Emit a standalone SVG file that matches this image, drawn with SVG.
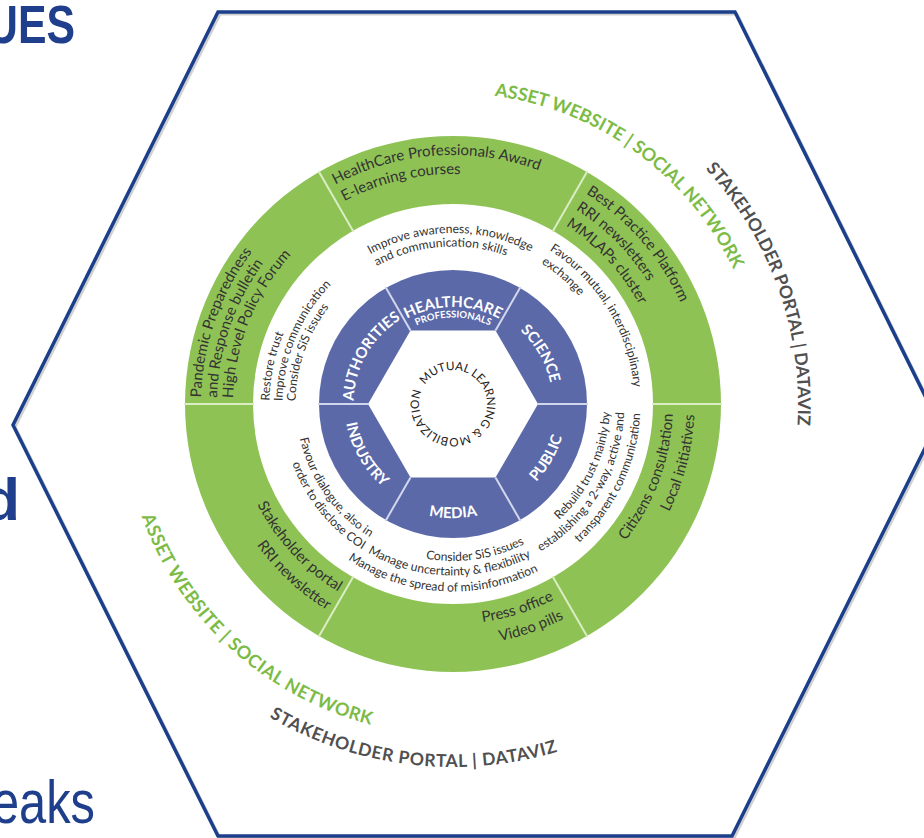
<svg xmlns="http://www.w3.org/2000/svg" width="924" height="838" viewBox="0 0 924 838">
<style>
  .g15 { font-family: Lato, "Open Sans", sans-serif; font-size: 15px; fill: #333333; }
  .w12 { font-family: Lato, "Open Sans", sans-serif; font-size: 12.2px; fill: #333333; }
  .lbl { font-family: Lato, "Open Sans", sans-serif; font-size: 15px; font-weight: 700; fill: #ffffff; }
  .sm { font-size: 9.5px; }
  .ctr { font-family: Lato, "Open Sans", sans-serif; font-size: 11.7px; fill: #222222; }
  .asset { font-family: Lato, "Open Sans", sans-serif; font-weight: 700; font-size: 18px; fill: #7cbb45; }
  .stake { font-family: Lato, "Open Sans", sans-serif; font-weight: 700; font-size: 17.5px; fill: #505050; }
  .gdiv { stroke: #dbedc4; stroke-width: 2; }
  .bdiv { stroke: #d3d7ee; stroke-width: 2; }
  .title { font-family: "Liberation Sans", Arial, sans-serif; fill: #1f3e8c; }
</style>
<defs>
  <path id="u86" d="M371.72,433.59 A86.5,86.5 0 1 1 534.28,433.59"/>
  <path id="u97" d="M361.85,437.18 A97,97 0 1 1 544.15,437.18"/>
  <path id="u99" d="M359.50,438.03 A99.5,99.5 0 1 1 546.50,438.03"/>
  <path id="u157" d="M305.00,457.87 A157.5,157.5 0 1 1 601.00,457.87"/>
  <path id="u166" d="M297.01,460.78 A166,166 0 1 1 608.99,460.78"/>
  <path id="u170" d="M292.78,462.31 A170.5,170.5 0 1 1 613.22,462.31"/>
  <path id="u171" d="M292.31,462.49 A171,171 0 1 1 613.69,462.49"/>
  <path id="u181" d="M282.45,466.08 A181.5,181.5 0 1 1 623.55,466.08"/>
  <path id="u183" d="M280.57,466.76 A183.5,183.5 0 1 1 625.43,466.76"/>
  <path id="u211" d="M254.73,476.17 A211,211 0 1 1 651.27,476.17"/>
  <path id="u220" d="M246.27,479.24 A220,220 0 1 1 659.73,479.24"/>
  <path id="u230" d="M236.87,482.67 A230,230 0 1 1 669.13,482.67"/>
  <path id="u236" d="M231.23,484.72 A236,236 0 1 1 674.77,484.72"/>
  <path id="u249" d="M219.02,489.16 A249,249 0 1 1 686.98,489.16"/>
  <path id="u252" d="M216.20,490.19 A252,252 0 1 1 689.80,490.19"/>
  <path id="u311" d="M160.76,510.37 A311,311 0 1 1 745.24,510.37"/>
  <path id="u345" d="M128.81,522.00 A345,345 0 1 1 777.19,522.00"/>
  <path id="l108" d="M351.04,366.89 A108.5,108.5 0 1 0 554.96,366.89"/>
  <path id="l114" d="M345.88,365.01 A114,114 0 1 0 560.12,365.01"/>
  <path id="l157" d="M305.47,350.30 A157,157 0 1 0 600.53,350.30"/>
  <path id="l171" d="M291.84,345.34 A171.5,171.5 0 1 0 614.16,345.34"/>
  <path id="l187" d="M276.81,339.87 A187.5,187.5 0 1 0 629.19,339.87"/>
  <path id="l220" d="M246.27,328.76 A220,220 0 1 0 659.73,328.76"/>
  <path id="l241" d="M226.07,321.40 A241.5,241.5 0 1 0 679.93,321.40"/>
  <path id="l331" d="M141.96,290.79 A331,331 0 1 0 764.04,290.79"/>
  <path id="l363" d="M111.89,279.85 A363,363 0 1 0 794.11,279.85"/>
  <path id="ctrc" d="M424.81,384.99 A34,34 0 0 1 481.19,423.01 A34,34 0 0 1 424.81,384.99"/>
</defs>

<rect width="924" height="838" fill="#ffffff"/>

<g id="title-fragments">
  <text class="title" x="-13" y="43" font-size="54" font-weight="700" textLength="88" lengthAdjust="spacingAndGlyphs">UES</text>
  <text class="title" x="20" y="520" font-size="60" font-weight="700" text-anchor="end">d</text>
  <text class="title" x="-8" y="823" font-size="62" textLength="103" lengthAdjust="spacingAndGlyphs" fill="#2b4b9a">eaks</text>
</g>

<g id="hexagon-frame">
  <polygon points="220,14 737,14 940,424 734,838 220,838 15,427" fill="none" stroke="#9a9a9a" stroke-opacity="0.45" stroke-width="3"/>
  <polygon points="218,12 735,12 938,422 732,836 218,836 13,425" fill="none" stroke="#1b3f8b" stroke-width="3.5" stroke-linejoin="miter"/>
</g>

<g id="wheel">
  <circle cx="453" cy="404" r="268" fill="#8fc255"/>
  <circle cx="453" cy="404" r="200" fill="#ffffff"/>
  <circle cx="453" cy="404" r="134" fill="#5b69a9"/>
  <polygon points="538,404 495.5,330.39 410.5,330.39 368,404 410.5,477.61 495.5,477.61" fill="#ffffff"/>
</g>

<g id="dividers">
  <line class="gdiv" x1="652" y1="404" x2="722" y2="404"/>
  <line class="gdiv" x1="552.5" y1="231.7" x2="587.5" y2="171.1"/>
  <line class="gdiv" x1="353.5" y1="231.7" x2="318.5" y2="171.1"/>
  <line class="gdiv" x1="254" y1="404" x2="184" y2="404"/>
  <line class="gdiv" x1="353.5" y1="576.3" x2="318.5" y2="636.9"/>
  <line class="gdiv" x1="552.5" y1="576.3" x2="587.5" y2="636.9"/>
  <line class="bdiv" x1="538" y1="404" x2="588" y2="404"/>
  <line class="bdiv" x1="495.5" y1="330.39" x2="520.5" y2="287.1"/>
  <line class="bdiv" x1="410.5" y1="330.39" x2="385.5" y2="287.1"/>
  <line class="bdiv" x1="368" y1="404" x2="318" y2="404"/>
  <line class="bdiv" x1="410.5" y1="477.61" x2="385.5" y2="520.9"/>
  <line class="bdiv" x1="495.5" y1="477.61" x2="520.5" y2="520.9"/>
</g>

<g id="center">
  <text class="ctr"><textPath href="#ctrc" startOffset="0">MUTUAL LEARNING &amp; MOBILIZATION</textPath></text>
</g>

<g id="healthcare-professionals">
  <text class="lbl" text-anchor="middle" font-size="13.5"><textPath href="#u97" startOffset="186.2">HEALTHCARE</textPath></text>
  <text class="lbl sm" text-anchor="middle"><textPath href="#u86" startOffset="166.1">PROFESSIONALS</textPath></text>
  <text class="w12"><textPath href="#u171" startOffset="241.7">Improve awareness, knowledge</textPath></text>
  <text class="w12"><textPath href="#u157" startOffset="222.7">and communication skills</textPath></text>
  <text class="g15"><textPath href="#u249" startOffset="355.1">HealthCare Professionals Award</textPath></text>
  <text class="g15"><textPath href="#u230" startOffset="328.0">E-learning courses</textPath></text>
</g>

<g id="science">
  <text class="lbl" text-anchor="middle" font-size="14.5"><textPath href="#u99" startOffset="295.2">SCIENCE</textPath></text>
  <text class="w12"><textPath href="#u181" startOffset="449.8">Favour mutual, interdisciplinary</textPath></text>
  <text class="w12"><textPath href="#u166" startOffset="411.4">exchange</textPath></text>
  <text class="g15"><textPath href="#u249" startOffset="618.0">Best Practice Platform</textPath></text>
  <text class="g15"><textPath href="#u230" startOffset="570.8">RRI newsletters</textPath></text>
  <text class="g15"><textPath href="#u211" startOffset="523.7">MMLAPs cluster</textPath></text>
</g>

<g id="public">
  <text class="lbl" text-anchor="middle"><textPath href="#l114" startOffset="338.2">PUBLIC</textPath></text>
  <text class="w12" text-anchor="end"><textPath href="#l157" startOffset="539.8">Rebuild trust mainly by</textPath></text>
  <text class="w12" text-anchor="end"><textPath href="#l171" startOffset="589.7">establishing a 2-way, active and</textPath></text>
  <text class="w12" text-anchor="end"><textPath href="#l187" startOffset="644.7">transparent communication</textPath></text>
  <text class="g15" text-anchor="end"><textPath href="#l220" startOffset="757.6">Citizens consultation</textPath></text>
  <text class="g15" text-anchor="end"><textPath href="#l241" startOffset="831.6">Local initiatives</textPath></text>
</g>

<g id="media">
  <text class="lbl" text-anchor="middle"><textPath href="#l114" startOffset="218.9">MEDIA</textPath></text>
  <text class="w12" text-anchor="end"><textPath href="#l157" startOffset="375.4">Consider SiS issues</textPath></text>
  <text class="w12" text-anchor="end"><textPath href="#l171" startOffset="410.1">Manage uncertainty &amp; flexibility</textPath></text>
  <text class="w12" text-anchor="end"><textPath href="#l187" startOffset="448.3">Manage the spread of misinformation</textPath></text>
  <text class="g15" text-anchor="end"><textPath href="#l220" startOffset="527.2">Press office</textPath></text>
  <text class="g15" text-anchor="end"><textPath href="#l241" startOffset="578.7">Video pills</textPath></text>
</g>

<g id="industry">
  <text class="lbl" text-anchor="middle" font-size="14.5"><textPath href="#l108" startOffset="94.7">INDUSTRY</textPath></text>
  <text class="w12" text-anchor="end"><textPath href="#l157" startOffset="213.7">Favour dialogue, also in</textPath></text>
  <text class="w12" text-anchor="end"><textPath href="#l171" startOffset="233.5">order to disclose COI</textPath></text>
  <text class="g15" text-anchor="end"><textPath href="#l220" startOffset="301.4">Stakeholder portal</textPath></text>
  <text class="g15" text-anchor="end"><textPath href="#l241" startOffset="330.9">RRI newsletter</textPath></text>
</g>

<g id="authorities">
  <text class="lbl" text-anchor="middle" font-size="14"><textPath href="#u99" startOffset="86.8">AUTHORITIES</textPath></text>
  <text class="w12"><textPath href="#u183" startOffset="67.3">Restore trust</textPath></text>
  <text class="w12"><textPath href="#u170" startOffset="62.5">Improve communication</textPath></text>
  <text class="w12"><textPath href="#u157" startOffset="57.7">Consider SiS issues</textPath></text>
  <text class="g15"><textPath href="#u252" startOffset="94.6">Pandemic Preparedness</textPath></text>
  <text class="g15"><textPath href="#u236" startOffset="88.6">and Response bulletin</textPath></text>
  <text class="g15"><textPath href="#u220" startOffset="82.6">High Level Policy Forum</textPath></text>
</g>

<g id="outer-labels">
  <text class="asset" text-anchor="middle"><textPath href="#u311" startOffset="792.5">ASSET WEBSITE | SOCIAL NETWORK</textPath></text>
  <text class="stake" text-anchor="middle"><textPath href="#u345" startOffset="1085.4">STAKEHOLDER PORTAL | DATAVIZ</textPath></text>
  <text class="asset" text-anchor="middle" font-size="18.5" letter-spacing="0.5"><textPath href="#l331" startOffset="391.4">ASSET WEBSITE | SOCIAL NETWORK</textPath></text>
  <text class="stake" text-anchor="middle" font-size="19.5" letter-spacing="0.7"><textPath href="#l363" startOffset="654">STAKEHOLDER PORTAL | DATAVIZ</textPath></text>
</g>
</svg>
